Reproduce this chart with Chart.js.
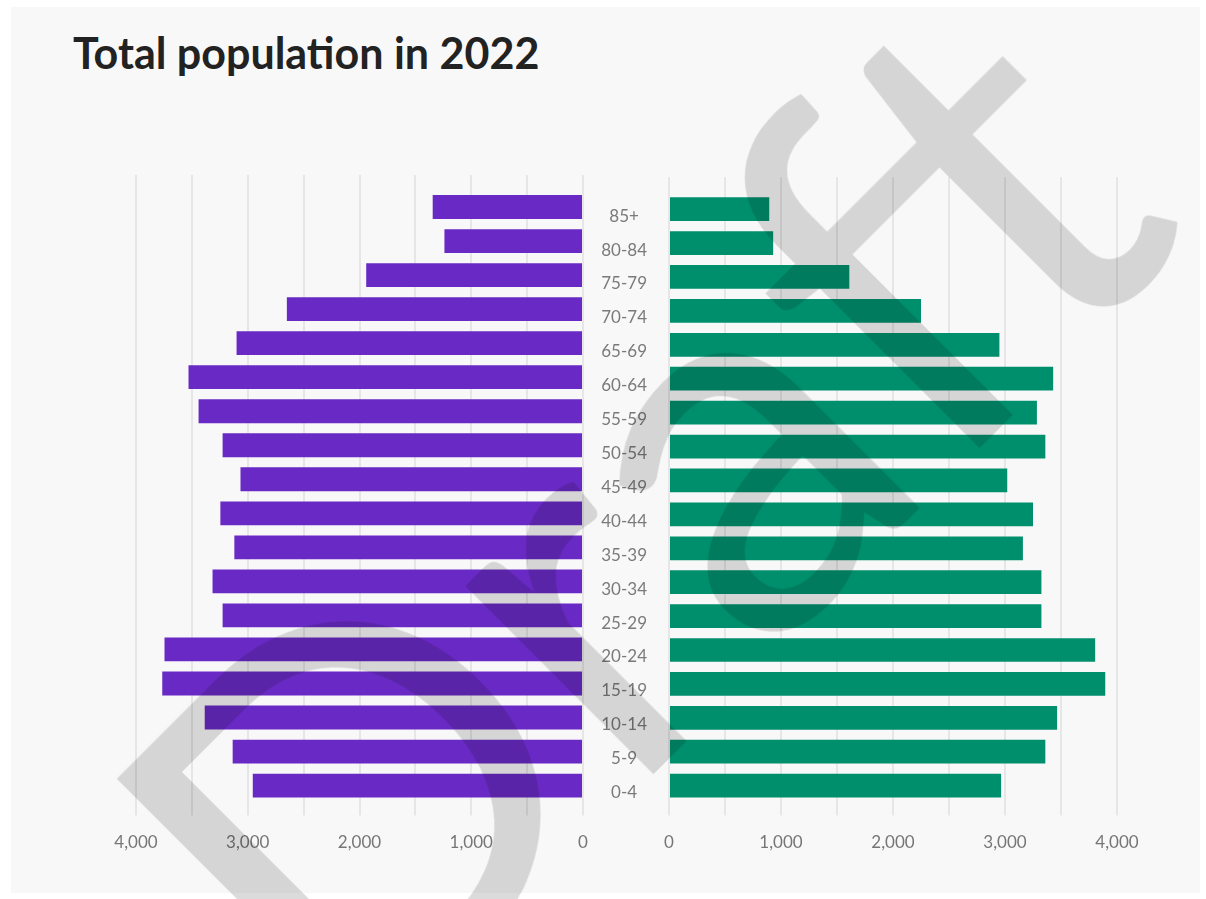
<!DOCTYPE html>
<html lang="en">
<head>
  <meta charset="UTF-8">
  <title>Total population in 2022</title>
  <script src="https://cdn.jsdelivr.net/npm/chart.js"></script>
  <style>
    body {
      margin: 0;
      width: 1206px;
      height: 899px;
      overflow: hidden;
      position: relative;
      background: #fff;
      font-family: Lato, sans-serif;
    }

    .panel {
      position: absolute;
      left: 11px;
      top: 7px;
      width: 1189px;
      height: 886px;
      background: #f8f8f8;
    }

    h1 {
      position: absolute;
      left: 73px;
      top: 31px;
      margin: 0;
      font: 700 43px/1 Lato, sans-serif;
      color: #222;
    }

    .box { position: absolute; top: 160px; height: 710px; }
    #leftBox { left: 96px; width: 497px; }
    #rightBox { left: 583px; width: 574px; }

    .draft {
      position: absolute;
      left: 20px;
      top: 750px;
      transform-origin: 0 0;
      transform: rotate(-45deg);
      font: 400 525px/1 Lato, sans-serif;
      color: rgba(0, 0, 0, 0.14);
      white-space: nowrap;
      pointer-events: none;
    }
  </style>
</head>

<body>
  <div class="panel"></div>
  <h1>Total population in 2022</h1>
  <div class="box" id="leftBox"><canvas id="leftChart"></canvas></div>
  <div class="box" id="rightBox"><canvas id="rightChart"></canvas></div>
  <div class="draft">Draft</div>

  <script>
    const ageGroups = ['0-4', '5-9', '10-14', '15-19', '20-24', '25-29', '30-34', '35-39', '40-44',
      '45-49', '50-54', '55-59', '60-64', '65-69', '70-74', '75-79', '80-84', '85+'];

    // purple side (left)
    const leftValues = [2955, 3135, 3385, 3765, 3745, 3225, 3315, 3120, 3245,
      3065, 3225, 3440, 3530, 3100, 2650, 1940, 1240, 1345];

    // green side (right)
    const rightValues = [2965, 3360, 3465, 3895, 3805, 3325, 3325, 3160, 3250,
      3020, 3360, 3285, 3430, 2950, 2250, 1610, 930, 895];

    const gridValues = [0, 500, 1000, 1500, 2000, 2500, 3000, 3500, 4000];
    const tickLabels = ['0', '', '1,000', '', '2,000', '', '3,000', '', '4,000'];

    const gridColor = '#e6e6e6';
    const labelFont = { family: 'Lato', size: 17 };

    function setTicks(scale) {
      scale.ticks = gridValues.map(v => ({ value: v }));
    }

    function bottomAxis(reverse) {
      return {
        type: 'linear',
        position: 'bottom',
        min: 0,
        max: 4000,
        reverse: reverse,
        afterBuildTicks: setTicks,
        grid: { color: gridColor, lineWidth: 2, drawTicks: true, tickLength: 13 },
        border: { display: false },
        ticks: {
          color: '#767676',
          font: labelFont,
          padding: 17,
          maxRotation: 0,
          autoSkip: false,
          callback: (v, i) => tickLabels[i]
        }
      };
    }

    // only there to carry the grid lines a bit above the bars
    function topAxis(reverse) {
      return {
        type: 'linear',
        position: 'top',
        min: 0,
        max: 4000,
        reverse: reverse,
        afterBuildTicks: setTicks,
        grid: { color: gridColor, lineWidth: 2, drawOnChartArea: false, drawTicks: true, tickLength: 15 },
        border: { display: false },
        ticks: { display: false }
      };
    }

    function drawSide(canvasId, values, color, isLeft) {
      const yAxis = isLeft
        ? { reverse: true, display: false }
        : {
            reverse: true,
            position: 'left',
            grid: { display: false, drawTicks: false },
            border: { display: false },
            ticks: { color: '#7a7a7a', font: labelFont, crossAlign: 'center', padding: 22, labelOffset: 7 },
            afterFit: s => { s.width = 86; }
          };

      new Chart(document.getElementById(canvasId), {
        type: 'bar',
        data: {
          labels: ageGroups,
          datasets: [{
            data: values,
            backgroundColor: color,
            borderWidth: 0,
            barPercentage: 0.7,
            categoryPercentage: 1
          }]
        },
        options: {
          indexAxis: 'y',
          responsive: true,
          maintainAspectRatio: false,
          animation: false,
          layout: { padding: isLeft ? { left: 40, right: 10, top: 15, bottom: 0 } : { left: 0, right: 40, top: 15, bottom: 0 } },
          plugins: { legend: { display: false }, tooltip: { enabled: false } },
          scales: {
            x: bottomAxis(isLeft),
            xTop: topAxis(isLeft),
            y: yAxis
          }
        }
      });
    }

    drawSide('leftChart', leftValues, '#6929c4', true);
    drawSide('rightChart', rightValues, '#008f6c', false);
  </script>
</body>
</html>
